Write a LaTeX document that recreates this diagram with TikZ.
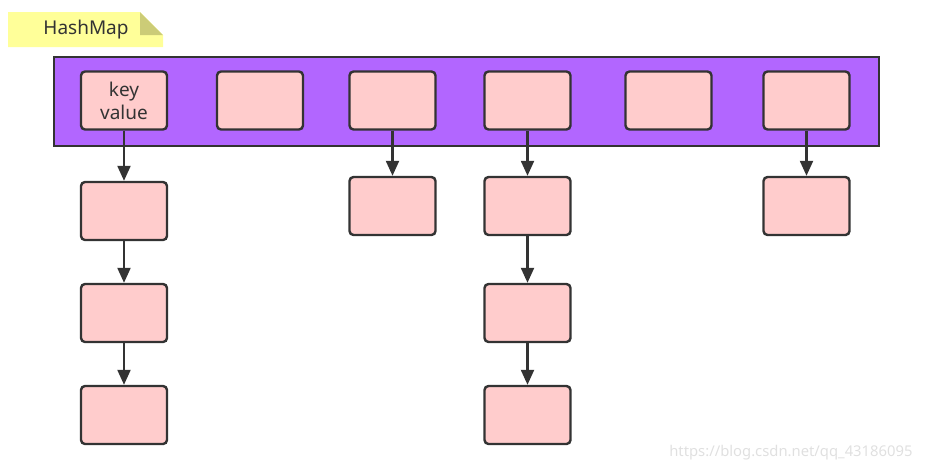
\documentclass[tikz,border=0pt]{standalone}
\usepackage{fontspec}
\setmainfont{Noto Sans}
\usetikzlibrary{arrows.meta}
\definecolor{boxfill}{HTML}{FFCCCC}
\definecolor{edge}{HTML}{333333}
\definecolor{hm}{HTML}{B266FF}
\definecolor{note}{HTML}{FFFF99}
\definecolor{notefold}{HTML}{CCCC77}
\tikzset{
  cell/.style={rectangle, rounded corners=4pt, fill=boxfill, draw=edge, line width=2.4pt,
    minimum width=86pt, minimum height=58pt, inner sep=0pt, font=\fontsize{19}{23}\selectfont, text=edge, align=center},
  link/.style={draw=edge, line width=2.2pt, -{Triangle[length=15pt,width=13pt]}},
}
\begin{document}
\begin{tikzpicture}[x=1pt,y=-1pt]
\useasboundingbox (0,0) rectangle (925,472);
% note
\fill[note] (8,12) -- (140,12) -- (163,35) -- (163,47) -- (8,47) -- cycle;
\fill[notefold] (140,12) -- (163,35) -- (140,35) -- cycle;
\node[font=\fontsize{19}{21}\selectfont, text=edge] (title) at (86,30) {HashMap};
% table
\draw[edge, line width=2.2pt, fill=hm] (54,57) rectangle (879,146);
\node[cell] (t1) at (124,100.5) {key\\value};
\node[cell] (t2) at (260,100.5) {};
\node[cell] (t3) at (392.5,100.5) {};
\node[cell] (t4) at (527.5,100.5) {};
\node[cell] (t5) at (668.5,100.5) {};
\node[cell] (t6) at (806.5,100.5) {};
% chains
\node[cell] (a1) at (124,211) {};
\node[cell] (a2) at (124,313) {};
\node[cell] (a3) at (124,415) {};
\node[cell] (c1) at (392.5,206) {};
\node[cell] (d1) at (527.5,206) {};
\node[cell] (d2) at (527.5,313) {};
\node[cell] (d3) at (527.5,415) {};
\node[cell] (f1) at (806.5,206) {};
\draw[link] (t1) -- (a1);
\draw[link] (a1) -- (a2);
\draw[link] (a2) -- (a3);
\draw[link] (t3) -- (c1);
\draw[link] (t4) -- (d1);
\draw[link] (d1) -- (d2);
\draw[link] (d2) -- (d3);
\draw[link] (t6) -- (f1);
% watermark
\node[font=\fontsize{14.8}{16}\selectfont, text=black!12, anchor=east] (wm) at (916,453) {https://blog.csdn.net/qq\_43186095};
\end{tikzpicture}
\end{document}
